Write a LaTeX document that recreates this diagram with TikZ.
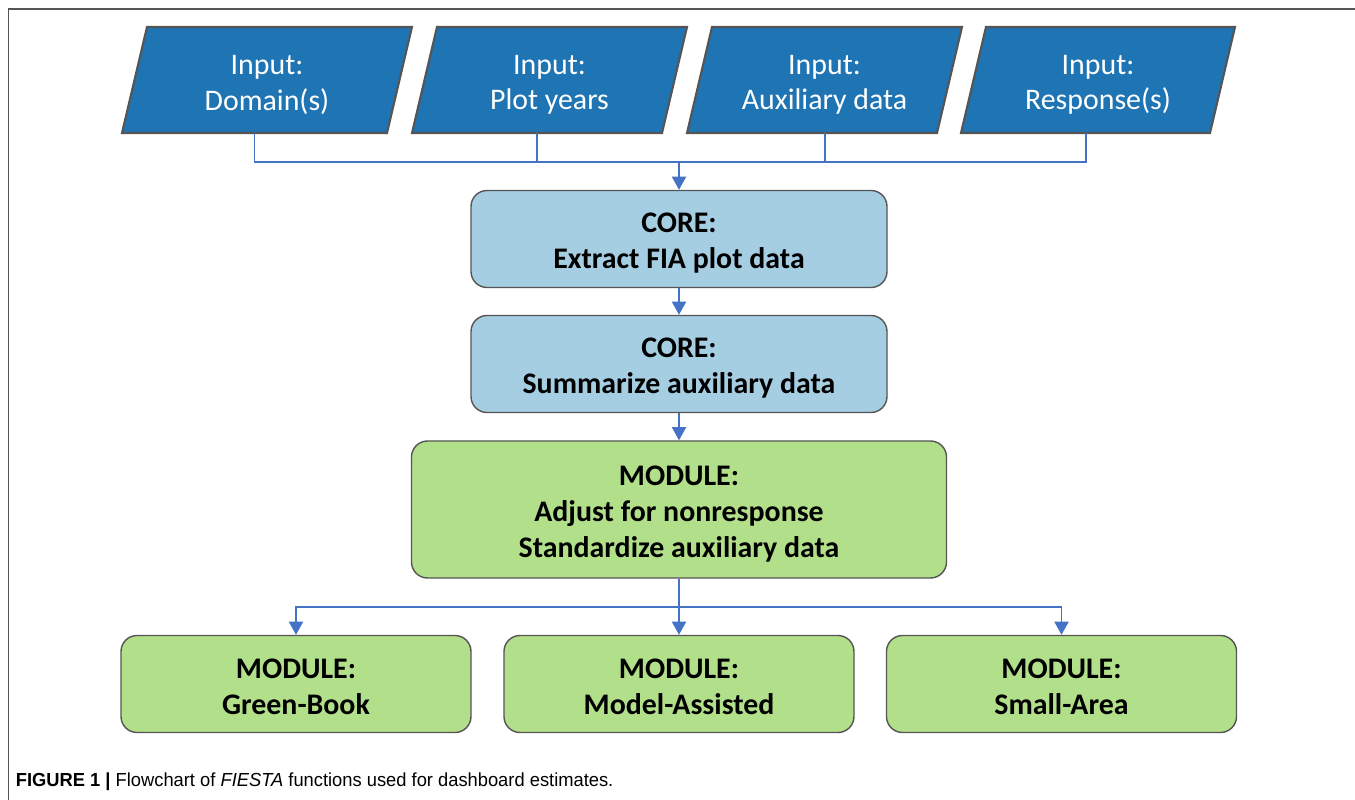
\documentclass[tikz,border=0pt]{standalone}
\usepackage{fontspec}
\setmainfont{Carlito}
\newfontfamily\capfont[FakeStretch=0.97]{Liberation Sans}
\usetikzlibrary{arrows.meta}
\definecolor{inblue}{RGB}{31,116,180}
\definecolor{corefill}{RGB}{166,206,227}
\definecolor{modfill}{RGB}{178,223,138}
\definecolor{linkblue}{RGB}{68,114,196}
\definecolor{boxline}{RGB}{85,85,85}

\begin{document}
\begin{tikzpicture}[
  inshape/.style={draw=boxline,line width=1.2pt,fill=inblue},
  intext/.style={text=white,align=center,font=\fontsize{17}{20}\selectfont},
  corebox/.style={rectangle,rounded corners=0.32cm,draw=boxline,line width=0.8pt,
    fill=corefill,minimum width=8.32cm,minimum height=1.94cm,align=center,
    font=\bfseries\fontsize{17}{20.5}\selectfont},
  modbox/.style={corebox,fill=modfill},
  link/.style={draw=linkblue,line width=1.1pt},
  arr/.style={link,-{Triangle[width=8pt,length=7.5pt]}}]
 \useasboundingbox (0,0) rectangle (27.1,-16);
 \draw[boxline,line width=0.9pt] (27.1,-0.18) -- (0.17,-0.18) -- (0.17,-16);

 % inputs: bottom left, width, joint
 \foreach \i/\bl/\w/\cx/\t in {1/2.44/5.3/5.09/Domain(s),2/8.24/5.0/10.74/Plot years,
                       3/13.74/5.0/16.5/Auxiliary data,4/19.22/4.98/21.72/Response(s)}
   {\filldraw[inshape] (\bl,-2.66) -- ++(\w,0) -- ++(0.5,2.12) -- ++(-\w,0) -- cycle;
    \node [intext] (in\i) at (\bl+\w/2+0.25,-1.7) {Input:\\\t};
    \coordinate (in\i b) at (\cx,-2.66);}

 \node [corebox] (core1) at (13.58,-4.78) {\rule{0pt}{15.4pt}CORE:\\Extract FIA plot data};
 \node [corebox] (core2) at (13.58,-7.28) {\rule{0pt}{15.4pt}CORE:\\Summarize auxiliary data};
 \node [modbox,minimum width=10.7cm,minimum height=2.74cm] (mod) at (13.58,-10.19)
   {\rule{0pt}{16.4pt}MODULE:\\Adjust for nonresponse\\Standardize auxiliary data};
 \foreach \n/\x/\t in {gb/5.92/Green-Book,ma/13.58/Model-Assisted,sa/21.23/Small-Area}
   \node [modbox,minimum width=7cm] (\n) at (\x,-13.68) {\rule{0pt}{14.2pt}MODULE:\\\t};

 \coordinate (join) at (13.58,-3.24);
 \coordinate (split) at (13.58,-12.14);

 \draw[link] (in1b) |- (join) -| (in4b);
 \draw[link] (in2b) -- (in2b |- join);
 \draw[link] (in3b) -- (in3b |- join);
 \draw[arr] (join) -- (core1);
 \draw[arr] (core1) -- (core2);
 \draw[arr] (core2) -- (mod);
 \draw[link] (mod) -- (split);
 \draw[arr] (split) -| (gb);
 \draw[arr] (split) -| (sa);
 \draw[arr] (split) -- (ma);

 \node [anchor=west,inner sep=0pt,font=\capfont\fontsize{10.75}{12}\selectfont] (cap) at (0.31,-15.64)
   {\textbf{FIGURE 1 |} Flowchart of \textit{FIESTA} functions used for dashboard estimates.};
\end{tikzpicture}
\end{document}
